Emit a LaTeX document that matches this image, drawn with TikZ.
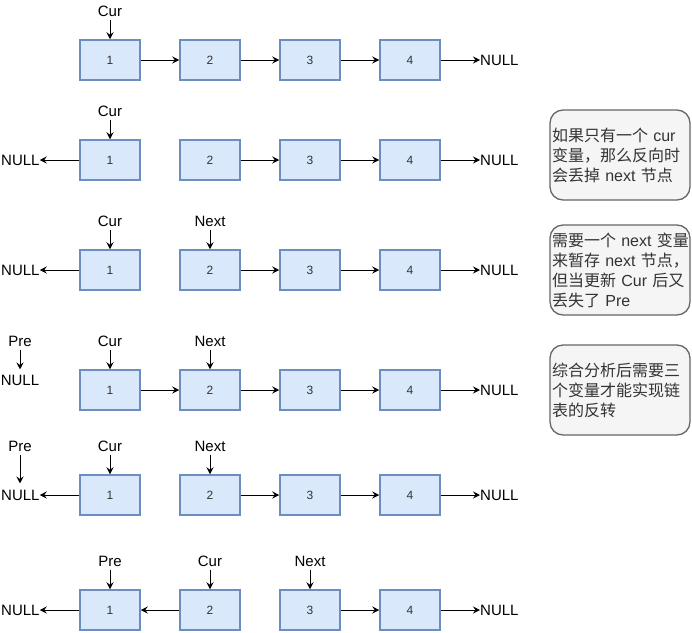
\documentclass[tikz,border=0pt]{standalone}
\usepackage{fontspec}
\setmainfont{Liberation Sans}
\newfontfamily\cjk{Noto Sans CJK SC}
\usetikzlibrary{arrows.meta}
\definecolor{boxfill}{HTML}{DAE8FC}
\definecolor{boxline}{HTML}{6C8EBF}
\definecolor{notefill}{HTML}{F5F5F5}
\definecolor{noteline}{HTML}{666666}
\definecolor{txt}{HTML}{333333}
\tikzset{
  listbox/.style={draw=boxline, fill=boxfill, line width=1.5pt, minimum width=60pt, minimum height=40pt, inner sep=0pt, font=\fontsize{12}{14}\selectfont, text=txt},
  lbl/.style={inner sep=0pt, font=\fontsize{15}{18}\selectfont, text depth=3pt, anchor=south},
  nulltxt/.style={inner sep=0pt, font=\fontsize{15}{18}\selectfont},
  conn/.style={-{Stealth[length=7pt,width=7pt,inset=2.5pt]}, line width=1pt},
  note/.style={draw=noteline, fill=notefill, line width=1.3pt, rounded corners=13pt, minimum width=140pt, minimum height=90pt, text width=136pt, inner xsep=2pt, align=left, font=\fontsize{16}{20}\selectfont, text=txt}
}
\newcommand\mkrow[2]{%
  \node[listbox] (#1a) at (110,#2) {1};
  \node[listbox] (#1b) at (210,#2) {2};
  \node[listbox] (#1c) at (310,#2) {3};
  \node[listbox] (#1d) at (410,#2) {4};
  \node[nulltxt, anchor=base west] (#1r) at (480,#2+5.5) {NULL};
  \draw[conn] (#1d.east) -- (#1d.east -| #1r.west);
  \draw[conn] (#1c) -- (#1d);
}
\begin{document}
\begin{tikzpicture}[x=1pt,y=-1pt]
\useasboundingbox (0,0) rectangle (692,632);
% row 1
\mkrow{p}{60}
\node[lbl] (pcur) at (110,19.5) {Cur};
\draw[conn] (pcur.south) -- (pa.north);
\draw[conn] (pa) -- (pb);
\draw[conn] (pb) -- (pc);
% row 2
\mkrow{q}{160}
\node[lbl] (qcur) at (110,119.5) {Cur};
\draw[conn] (qcur.south) -- (qa.north);
\node[nulltxt, anchor=base west] (ql) at (1,165.5) {NULL};
\draw[conn] (qa.west) -- (qa.west -| ql.east);
\draw[conn] (qb) -- (qc);
% row 3
\mkrow{r}{270}
\node[lbl] (rcur) at (110,229.5) {Cur};
\node[lbl] (rnext) at (210,229.5) {Next};
\draw[conn] (rcur.south) -- (ra.north);
\draw[conn] (rnext.south) -- (rb.north);
\node[nulltxt, anchor=base west] (rl) at (1,275.5) {NULL};
\draw[conn] (ra.west) -- (ra.west -| rl.east);
\draw[conn] (rb) -- (rc);
% row 4
\mkrow{s}{390}
\node[lbl] (spre) at (20,349.5) {Pre};
\node[nulltxt, anchor=base] (snull) at (20,385.5) {NULL};
\draw[conn, shorten >=5.5pt] (spre.south) -- (spre.south |- snull.north);
\node[lbl] (scur) at (110,349.5) {Cur};
\node[lbl] (snext) at (210,349.5) {Next};
\draw[conn] (scur.south) -- (sa.north);
\draw[conn] (snext.south) -- (sb.north);
\draw[conn] (sa) -- (sb);
\draw[conn] (sb) -- (sc);
% row 5
\mkrow{t}{495}
\node[lbl] (tpre) at (20,454.5) {Pre};
\node[nulltxt, anchor=base west] (tl) at (1,500.5) {NULL};
\draw[conn, shorten >=6.5pt] (tpre.south) -- (tpre.south |- tl.north);
\node[lbl] (tcur) at (110,454.5) {Cur};
\node[lbl] (tnext) at (210,454.5) {Next};
\draw[conn] (tcur.south) -- (ta.north);
\draw[conn] (tnext.south) -- (tb.north);
\draw[conn] (ta.west) -- (ta.west -| tl.east);
\draw[conn] (tb) -- (tc);
% row 6
\mkrow{u}{610}
\node[lbl] (upre) at (110,569.5) {Pre};
\node[lbl] (ucur) at (210,569.5) {Cur};
\node[lbl] (unext) at (310,569.5) {Next};
\draw[conn] (upre.south) -- (ua.north);
\draw[conn] (ucur.south) -- (ub.north);
\draw[conn] (unext.south) -- (uc.north);
\node[nulltxt, anchor=base west] (ul) at (1,615.5) {NULL};
\draw[conn] (ua.west) -- (ua.west -| ul.east);
\draw[conn] (ub) -- (ua);
% notes
\node[note] (n1) at (620,155) {\mbox{{\cjk 如果只有一个} cur}\\\mbox{\cjk 变量，那么反向时}\\\mbox{{\cjk 会丢掉} next {\cjk 节点}}};
\node[note] (n2) at (620,270) {\mbox{{\cjk 需要一个} next {\cjk 变量}}\\\mbox{{\cjk 来暂存} next {\cjk 节点，}}\\\mbox{{\cjk 但当更新} Cur {\cjk 后又}}\\\mbox{{\cjk 丢失了} Pre}};
\node[note] (n3) at (620,390) {\mbox{\cjk 综合分析后需要三}\\\mbox{\cjk 个变量才能实现链}\\\mbox{\cjk 表的反转}};
\end{tikzpicture}
\end{document}
